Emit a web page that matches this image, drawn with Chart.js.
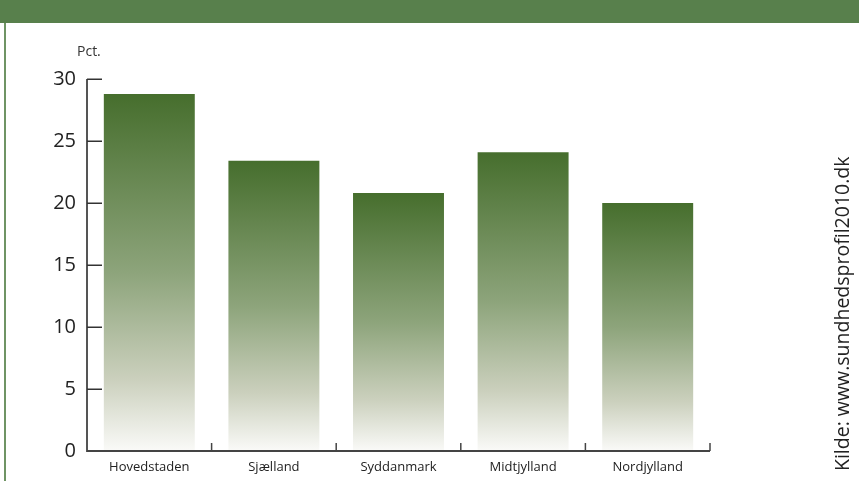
<!DOCTYPE html>
<html><head><meta charset="utf-8">
<script src="https://cdn.jsdelivr.net/npm/chart.js@4.4.1/dist/chart.umd.min.js"></script>
<style>html,body{margin:0;padding:0;background:#fff;}#wrap{width:859px;height:481px;position:relative;}</style>
</head><body><div id="wrap"><canvas id="c" width="859" height="481"></canvas></div>
<script>
const categories = ["Hovedstaden", "Sjælland", "Syddanmark", "Midtjylland", "Nordjylland"];
const values = [28.8, 23.4, 20.8, 24.1, 20.0];
const yTicks = [0, 5, 10, 15, 20, 25, 30];
const unitLabel = "Pct.";
const sourceText = "Kilde: www.sundhedsprofil2010.dk";

const FONT = "'Open Sans', 'DejaVu Sans', sans-serif";

function barGradient(ctx) {
  const chart = ctx.chart;
  const area = chart.chartArea;
  if (!area || ctx.type !== 'data') return '#4a7030';
  const y = chart.scales.y;
  const top = y.getPixelForValue(ctx.raw);
  const bottom = y.getPixelForValue(0);
  const g = chart.ctx.createLinearGradient(0, top, 0, bottom);
  g.addColorStop(0, '#466e2d');
  g.addColorStop(0.5, '#8da47b');
  g.addColorStop(0.8, '#cbd0bd');
  g.addColorStop(1, '#fafaf8');
  return g;
}

const decor = {
  id: 'decor',
  beforeDraw(chart) {
    const c = chart.ctx;
    c.save();
    c.fillStyle = '#fff';
    c.fillRect(0, 0, chart.width, chart.height);
    c.fillStyle = '#58804c';
    c.fillRect(0, 0, chart.width, 23);
    c.fillStyle = '#6f9464';
    c.fillRect(4, 23, 2, chart.height - 23);
    c.restore();
  },
  afterDraw(chart) {
    const c = chart.ctx;
    const x = chart.scales.x, y = chart.scales.y;
    const left = chart.chartArea.left, right = chart.chartArea.right;
    const y0 = y.getPixelForValue(0), yMax = y.getPixelForValue(30);
    c.save();
    c.strokeStyle = '#555';
    c.lineWidth = 2;
    c.beginPath(); c.moveTo(left, yMax); c.lineTo(left, y0 + 1); c.stroke();
    c.strokeStyle = '#333';
    c.lineWidth = 1.5;
    yTicks.forEach(v => {
      const p = Math.round(y.getPixelForValue(v)) + 0.25;
      c.beginPath(); c.moveTo(left, p); c.lineTo(left + 15, p); c.stroke();
    });
    c.strokeStyle = '#444';
    c.lineWidth = 2;
    c.beginPath(); c.moveTo(left, y0); c.lineTo(right, y0); c.stroke();
    c.lineWidth = 1.5;
    const n = categories.length;
    for (let i = 0; i < n; i++) {
      const a = x.getPixelForValue(i), b = i < n - 1 ? x.getPixelForValue(i + 1) : right;
      const bx = i < n - 1 ? (a + b) / 2 : right;
      c.beginPath(); c.moveTo(bx, y0); c.lineTo(bx, y0 - 8); c.stroke();
    }
    c.fillStyle = '#333';
    c.font = "14px " + FONT;
    c.textAlign = 'left';
    c.textBaseline = 'middle';
    c.fillText(unitLabel, 77, 52);
    c.translate(843, 471);
    c.rotate(-Math.PI / 2);
    c.font = "19.5px " + FONT;
    c.fillStyle = '#222';
    c.textAlign = 'left';
    c.textBaseline = 'middle';
    c.fillText(sourceText, 0, 0);
    c.restore();
  }
};

new Chart(document.getElementById('c'), {
  type: 'bar',
  data: {
    labels: categories,
    datasets: [{
      data: values,
      backgroundColor: barGradient,
      borderWidth: 0,
      barPercentage: 0.73,
      categoryPercentage: 1.0
    }]
  },
  options: {
    responsive: false,
    animation: false,
    devicePixelRatio: 1,
    layout: { padding: { left: 0, right: 149, top: 79, bottom: 0 } },
    plugins: { legend: { display: false }, tooltip: { enabled: false } },
    scales: {
      x: {
        grid: { display: false, drawTicks: false },
        border: { display: false },
        ticks: { color: '#222', font: { family: FONT, size: 13 }, padding: 8, maxRotation: 0 },
        afterFit(s) { s.height = 30; }
      },
      y: {
        min: 0, max: 30,
        afterBuildTicks(s) { s.ticks = yTicks.map(v => ({ value: v })); },
        grid: { display: false, drawTicks: false },
        border: { display: false },
        ticks: { color: '#222', font: { family: FONT, size: 20 }, padding: 11 },
        afterFit(s) { s.width = 87; }
      }
    }
  },
  plugins: [decor]
});
</script></body></html>
